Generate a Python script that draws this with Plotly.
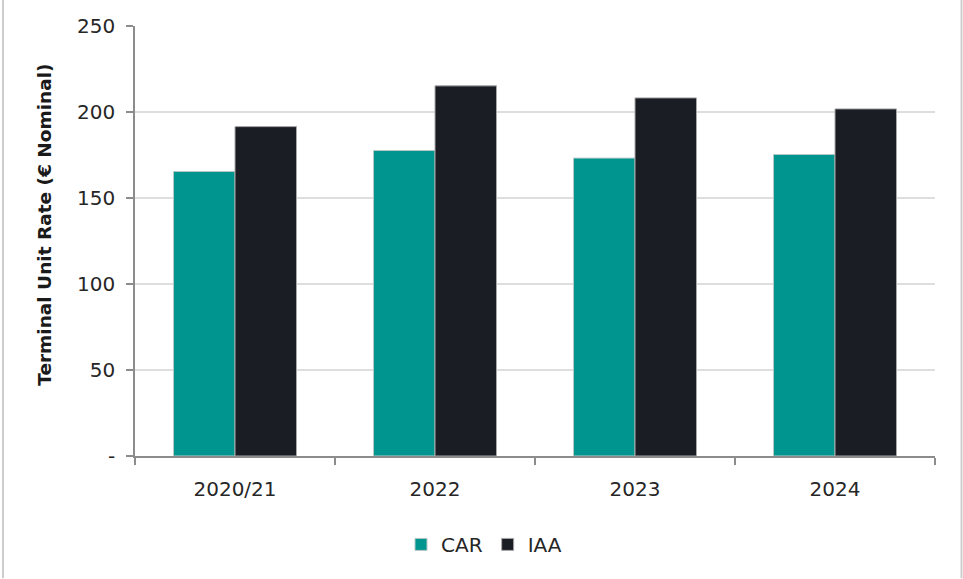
import plotly.graph_objects as go

# Terminal unit rates by period (EUR, nominal)
periods = ["2020/21", "2022", "2023", "2024"]
car_rate = [165.4, 177.6, 173.2, 175.3]
iaa_rate = [191.5, 215.2, 208.2, 201.8]

y_ticks = [0, 50, 100, 150, 200, 250]
y_tick_labels = ["-", "50", "100", "150", "200", "250"]

W, H = 963, 579
ML, MR, MT, MB = 135, 28, 26, 122.5
PW, PH = W - ML - MR, H - MT - MB

FONT = "DejaVu Sans"
TEAL = "#00968f"
DARK = "#1a1d24"
TICK_SIZE = 20


def px_x(x):
    return (x - ML) / PW


def px_y(y):
    return (H - MB - y) / PH


fig = go.Figure()
fig.add_trace(go.Bar(
    name="CAR", x=periods, y=car_rate,
    marker=dict(color=TEAL, line=dict(color="#b8c8c6", width=1)),
))
fig.add_trace(go.Bar(
    name="IAA", x=periods, y=iaa_rate,
    marker=dict(color=DARK, line=dict(color="#a8a8a8", width=1)),
))

# light frame on the left and right edges of the chart area
frame = []
for xp in (3, 961.5):
    frame.append(dict(
        type="line", xref="paper", yref="paper",
        x0=px_x(xp), x1=px_x(xp), y0=px_y(H), y1=px_y(0),
        line=dict(color="#cdcdcd", width=2), layer="above",
    ))

fig.update_layout(
    width=W, height=H,
    margin=dict(l=ML, r=MR, t=MT, b=MB, autoexpand=False),
    paper_bgcolor="white", plot_bgcolor="white",
    barmode="group", bargap=0.385, bargroupgap=0,
    font=dict(family=FONT, size=TICK_SIZE, color="#262626"),
    showlegend=True,
    legend=dict(
        orientation="h", x=px_x(484), y=px_y(545),
        xanchor="center", yanchor="middle",
        font=dict(family=FONT, size=TICK_SIZE, color="#262626"),
        itemwidth=30, traceorder="normal",
    ),
    shapes=frame,
    annotations=[dict(
        text="<b>Terminal Unit Rate (€ Nominal)</b>",
        xref="paper", yref="paper", x=px_x(45), y=px_y(225),
        xanchor="center", yanchor="middle", textangle=-90,
        showarrow=False, font=dict(family=FONT, size=18.5, color="#1a1a1a"),
    )],
)

fig.update_xaxes(
    type="category", tickson="boundaries",
    ticks="outside", ticklen=7, tickwidth=1.5, tickcolor="#8c8c8c",
    showline=True, linecolor="#8c8c8c", linewidth=1.5,
    showgrid=False, ticklabelstandoff=14,
    tickfont=dict(family=FONT, size=TICK_SIZE, color="#262626"),
)
fig.update_yaxes(
    range=[0, 250], tickvals=y_ticks, ticktext=y_tick_labels,
    ticks="outside", ticklen=7, tickwidth=1.5, tickcolor="#8c8c8c",
    showline=True, linecolor="#8c8c8c", linewidth=1.5,
    showgrid=True, gridcolor="#dedede", gridwidth=1.5,
    zeroline=False, ticklabelstandoff=7,
    tickfont=dict(family=FONT, size=TICK_SIZE, color="#262626"),
)

fig.write_html("out.html")
